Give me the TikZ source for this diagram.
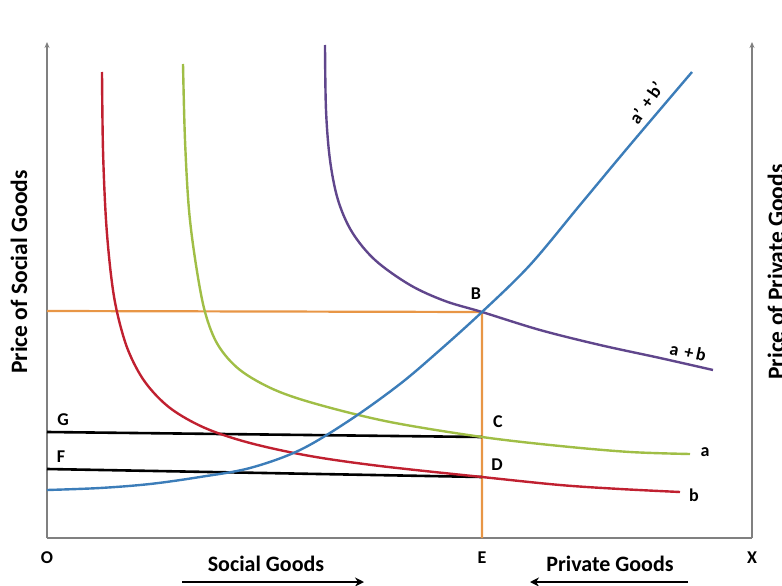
\documentclass[tikz,border=0pt]{standalone}
\usepackage{fontspec}
\setmainfont{Carlito}
\usetikzlibrary{arrows.meta}
\definecolor{cred}{RGB}{192,32,48}
\definecolor{cgreen}{RGB}{160,190,70}
\definecolor{cpurple}{RGB}{96,70,140}
\definecolor{cblue}{RGB}{60,125,185}
\definecolor{corange}{RGB}{232,150,70}
\definecolor{caxis}{RGB}{128,128,128}
\tikzset{
  axisline/.style={draw=caxis, line width=1.6pt},
  curve/.style={line width=2.4pt, line join=round},
  blackline/.style={draw=black, line width=2.6pt},
  guide/.style={draw=corange, line width=2.2pt},
  lbl/.style={font=\fontsize{18}{20}\selectfont\bfseries, inner sep=0pt},
  axlbl/.style={font=\fontsize{22}{24}\selectfont\bfseries, inner sep=0pt},
  vaxlbl/.style={font=\fontsize{23.5}{26}\selectfont\bfseries, inner sep=0pt, rotate=90},
  dirarrow/.style={draw=black, line width=2.4pt, -{Stealth[length=9pt,width=9pt]}}
}
\begin{document}
\begin{tikzpicture}[x=1pt,y=-1pt]
\useasboundingbox (0,0) rectangle (782,586);
% axes
\coordinate (O) at (47,538);
\coordinate (Ltop) at (47,42);
\coordinate (Xc) at (752,538);
\coordinate (Rtop) at (752,42);
\draw[axisline,-{Stealth[length=6pt,width=5pt]}] (O) -- (Ltop);
\draw[axisline] (O) -- (Xc);
\draw[axisline,-{Stealth[length=6pt,width=5pt]}] (Xc) -- (Rtop);
% key points
\coordinate (B) at (482,312);
\coordinate (C) at (482,437);
\coordinate (D) at (482,477);
\coordinate (E) at (482,538);
\coordinate (G) at (47,432);
\coordinate (F) at (47,469);
\coordinate (H) at (47,311);
% orange guides
\draw[guide] (H) -- (B) -- (E);
% black lines
\draw[blackline] (G) -- (C);
\draw[blackline] (F) -- (D);
% curves
\draw[curve, cred] plot[smooth, tension=0.55] coordinates {(102,72) (103,150) (106,220) (111,275) (117,312) (128,350) (145,382) (170,408) (205,428) (250,443) (310,456) (380,466) (482,477) (560,485) (620,489) (680,492)};
\draw[curve, cgreen] plot[smooth, tension=0.55] coordinates {(183,64) (185,140) (189,210) (196,265) (205,312) (218,345) (240,370) (275,390) (320,405) (390,422) (482,437) (560,446) (630,452) (690,454)};
\draw[curve, cpurple] plot[smooth, tension=0.55] coordinates {(325,45) (326,110) (330,160) (338,200) (352,232) (375,260) (410,285) (445,301) (482,312) (540,330) (600,345) (660,358) (713,370)};
\draw[curve, cblue] plot[smooth, tension=0.55] coordinates {(47,490) (100,488) (150,484) (200,477) (250,468) (300,450) (350,420) (400,384) (440,350) (482,312) (530,265) (580,205) (630,145) (692,72)};
% point labels
\node[lbl] (lB) at (476,294) {B};
\node[lbl] (lC) at (498,422) {C};
\node[lbl] (lD) at (497,465) {D};
\node[lbl] (lG) at (63,420) {G};
\node[lbl] (lF) at (61,457) {F};
\node[lbl] (la) at (705,452) {a};
\node[lbl] (lb) at (694,495) {b};
\node[lbl, rotate=-12] (lab) at (688,352) {a\,\,+\,b};
\node[lbl, rotate=55] (lapbp) at (646,103) {a\textquoteright\,\,+\,b\textquoteright};
\node[lbl] (lO) at (47,558) {O};
\node[lbl] (lE) at (482,558) {E};
\node[lbl] (lX) at (752,558) {X};
% axis titles
\node[vaxlbl] (ly) at (19,272) {Price of Social Goods};
\node[vaxlbl] (ry) at (776,272) {Price of Private Goods};
\node[axlbl] (sg) at (266,564) {Social Goods};
\node[axlbl] (pg) at (610,564) {Private Goods};
\coordinate (s1) at (182,582);
\coordinate (s2) at (364,582);
\coordinate (p1) at (688,582);
\coordinate (p2) at (530,582);
\draw[dirarrow] (s1) -- (s2);
\draw[dirarrow] (p1) -- (p2);
\end{tikzpicture}
\end{document}
